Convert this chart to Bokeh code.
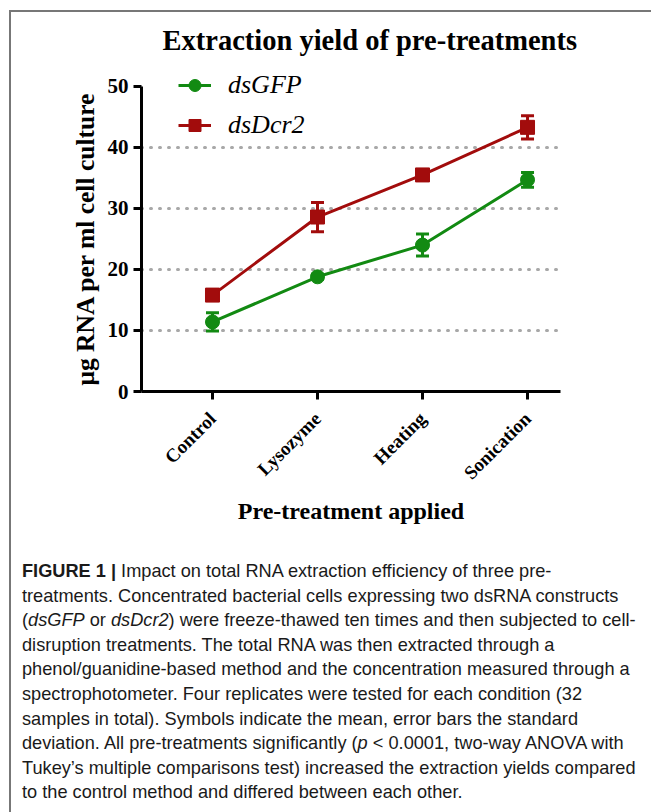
from math import pi
from bokeh.plotting import figure
from bokeh.models import (ColumnDataSource, FixedTicker, Whisker, TeeHead, Legend,
                          LegendItem, Div, Range1d, Title)
from bokeh.layouts import column
from bokeh.embed import file_html
from bokeh.resources import INLINE

# ---- data ----
categories = ["Control", "Lysozyme", "Heating", "Sonication"]
gfp_mean = [11.4, 18.8, 24.0, 34.7]
gfp_sd = [1.5, 0.4, 1.8, 1.2]
dcr_mean = [15.8, 28.6, 35.5, 43.3]
dcr_sd = [0.5, 2.4, 0.5, 1.9]
y_ticks = [0, 10, 20, 30, 40, 50]
grid_ticks = [10, 20, 30, 40]

GREEN = "#128a12"
RED = "#a20c0c"
SERIF = "Liberation Serif"
X_START, X_END = -0.676, 3.314

xs = list(range(len(categories)))

p = figure(width=640, height=528, output_backend="svg", toolbar_location=None,
           x_range=Range1d(X_START, X_END), y_range=Range1d(0, 53.6),
           min_border_left=130, min_border_right=91, min_border_top=52,
           min_border_bottom=149, title="Extraction yield of pre-treatments")
p.outline_line_color = None
p.title.text_font = SERIF
p.title.text_font_size = "28.5px"
p.title.text_font_style = "bold"
p.title.text_color = "black"
p.title.align = "left"
p.title.offset = 21
p.title.standoff = 18

# grid
p.xgrid.grid_line_color = None
p.ygrid.ticker = FixedTicker(ticks=grid_ticks)
p.ygrid.grid_line_color = "#a8a8a8"
p.ygrid.grid_line_width = 3
p.ygrid.grid_line_dash = "1 8"
p.ygrid.grid_line_cap = "round"

def style_axis(ax):
    ax.axis_line_width = 3
    ax.axis_line_color = "black"
    ax.major_tick_line_width = 3
    ax.major_tick_line_color = "black"
    ax.major_tick_out = 8
    ax.major_tick_in = 0
    ax.minor_tick_line_color = None
    ax.major_label_text_font = SERIF
    ax.major_label_text_font_style = "bold"
    ax.major_label_text_color = "black"
    ax.axis_label_text_font = SERIF
    ax.axis_label_text_font_style = "bold"
    ax.axis_label_text_color = "black"

yax = p.yaxis[0]
style_axis(yax)
yax.bounds = (0, 50)
yax.ticker = FixedTicker(ticks=y_ticks)
yax.major_label_text_font_size = "21px"
yax.major_label_standoff = 5

# y-axis title, aligned with the drawn part of the axis (0..50)
ytitle = Title(text="μg RNA per ml cell culture", align="left", offset=6,
               standoff=9, text_font=SERIF, text_font_style="bold",
               text_font_size="25.5px", text_color="black")
p.add_layout(ytitle, "left")

xax = p.xaxis[0]
style_axis(xax)
xax.ticker = FixedTicker(ticks=xs)
xax.major_label_overrides = {i: c for i, c in enumerate(categories)}
xax.major_label_orientation = pi / 4
xax.major_label_text_font_size = "19px"
xax.major_label_standoff = 16
xax.axis_label = "Pre-treatment applied"
xax.axis_label_text_font_size = "24px"
xax.axis_label_standoff = 4

# series
src_g = ColumnDataSource(dict(x=xs, y=gfp_mean,
                              upper=[m + s for m, s in zip(gfp_mean, gfp_sd)],
                              lower=[m - s for m, s in zip(gfp_mean, gfp_sd)]))
src_r = ColumnDataSource(dict(x=xs, y=dcr_mean,
                              upper=[m + s for m, s in zip(dcr_mean, dcr_sd)],
                              lower=[m - s for m, s in zip(dcr_mean, dcr_sd)]))

for src, col in ((src_g, GREEN), (src_r, RED)):
    w = Whisker(base="x", upper="upper", lower="lower", source=src,
                line_color=col, line_width=3,
                upper_head=TeeHead(size=13, line_color=col, line_width=3),
                lower_head=TeeHead(size=13, line_color=col, line_width=3))
    p.add_layout(w)

lg = p.line("x", "y", source=src_g, line_color=GREEN, line_width=3)
sg = p.scatter("x", "y", source=src_g, marker="circle", size=14,
               fill_color=GREEN, line_color=GREEN)
lr = p.line("x", "y", source=src_r, line_color=RED, line_width=3)
sr = p.scatter("x", "y", source=src_r, marker="square", size=14,
               fill_color=RED, line_color=RED)

legend = Legend(items=[LegendItem(label="dsGFP", renderers=[lg, sg]),
                       LegendItem(label="dsDcr2", renderers=[lr, sr])],
                location=(37, 251), orientation="vertical")
legend.background_fill_alpha = 0
legend.border_line_color = None
legend.padding = 0
legend.margin = 0
legend.spacing = 10
legend.glyph_width = 33
legend.glyph_height = 30
legend.label_height = 30
legend.label_standoff = 17
legend.label_text_font = SERIF
legend.label_text_font_style = "italic"
legend.label_text_font_size = "26px"
legend.label_text_color = "black"
p.add_layout(legend, "center")

caption_html = (
    "<b>FIGURE 1 |</b> Impact on total RNA extraction efficiency of three pre-<br>"
    "treatments. Concentrated bacterial cells expressing two dsRNA constructs<br>"
    "(<i>dsGFP</i> or <i>dsDcr2</i>) were freeze-thawed ten times and then subjected to cell-<br>"
    "disruption treatments. The total RNA was then extracted through a<br>"
    "phenol/guanidine-based method and the concentration measured through a<br>"
    "spectrophotometer. Four replicates were tested for each condition (32<br>"
    "samples in total). Symbols indicate the mean, error bars the standard<br>"
    "deviation. All pre-treatments significantly (<i>p</i> &lt; 0.0001, two-way ANOVA with<br>"
    "Tukey\u2019s multiple comparisons test) increased the extraction yields compared<br>"
    "to the control method and differed between each other."
)
caption = Div(text=caption_html, width=640, height=270,
              styles={"font-family": "'Liberation Sans', Arial, sans-serif",
                      "font-size": "18.2px", "line-height": "24.6px",
                      "color": "#1a1a1a", "padding-left": "6px",
                      "padding-top": "14px", "white-space": "nowrap",
                      "box-sizing": "border-box"})

layout = column(p, caption,
                styles={"border-top": "2px solid #777777",
                        "border-left": "2px solid #777777",
                        "margin-left": "9px", "margin-top": "10px"})

open("out.html", "w").write(file_html(layout, INLINE))
